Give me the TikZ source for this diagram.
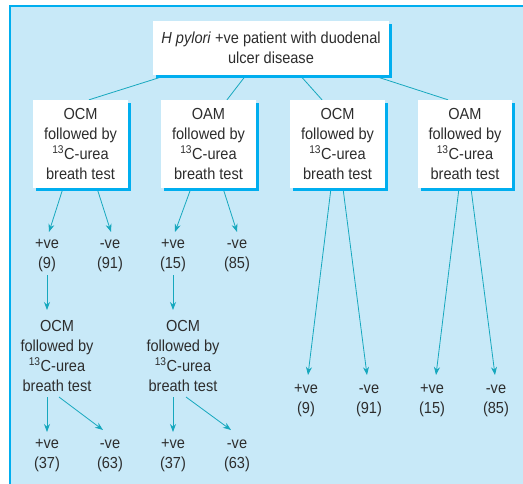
\documentclass[tikz,border=0pt]{standalone}
\usepackage{fontspec}
\setmainfont[FakeStretch=0.91]{Liberation Sans}
\usetikzlibrary{arrows.meta,shadows}
\definecolor{bgc}{RGB}{200,233,248}
\definecolor{cyanc}{RGB}{0,174,239}
\definecolor{linec}{RGB}{22,168,190}
\definecolor{txtc}{RGB}{45,45,45}
\pgfdeclarelayer{back}
\pgfdeclarelayer{lines}
\pgfsetlayers{back,lines,main}
\begin{document}
\begin{tikzpicture}[x=1pt,y=-1pt,
  every node/.style={font=\fontsize{16}{20}\selectfont, text=txtc},
  boxn/.style={fill=white, align=center, inner sep=0pt, minimum height=88pt, minimum width=95pt,
    general shadow={fill=cyanc, shadow xshift=3pt, shadow yshift=-3pt}},
  lab/.style={align=center, inner sep=0pt},
  conn/.style={draw=linec, line width=0.8pt},
  arr/.style={conn, -{Stealth[length=8pt,width=6pt]}}]
\useasboundingbox (0,0) rectangle (523,483);
\begin{pgfonlayer}{back}
  \path[fill=bgc, draw=cyanc, line width=1.5pt] (10,6) rectangle (530,490);
\end{pgfonlayer}

\node[boxn, minimum width=236pt, minimum height=54pt] (top) at (271,48)
  {\textit{H pylori} +ve patient with duodenal\\ulcer disease};

\node[boxn] (b1) at (80.5,144) {OCM\\followed by\\\textsuperscript{13}C-urea\\breath test};
\node[boxn] (b2) at (208.5,144) {OAM\\followed by\\\textsuperscript{13}C-urea\\breath test};
\node[boxn] (b3) at (337.5,144) {OCM\\followed by\\\textsuperscript{13}C-urea\\breath test};
\node[boxn, minimum width=94pt] (b4) at (465,144) {OAM\\followed by\\\textsuperscript{13}C-urea\\breath test};

\node[lab] (l11) at (47,256) {+ve\\(9)};
\node[lab] (l12) at (110,256) {-ve\\(91)};
\node[lab] (l21) at (173,256) {+ve\\(15)};
\node[lab] (l22) at (237,256) {-ve\\(85)};

\node[lab] (m1) at (57,356) {OCM\\followed by\\\textsuperscript{13}C-urea\\breath test};
\node[lab] (m2) at (183,356) {OCM\\followed by\\\textsuperscript{13}C-urea\\breath test};

\node[lab] (n11) at (47,456) {+ve\\(37)};
\node[lab] (n12) at (110,456) {-ve\\(63)};
\node[lab] (n21) at (173,456) {+ve\\(37)};
\node[lab] (n22) at (237,456) {-ve\\(63)};

\node[lab] (r31) at (306,401) {+ve\\(9)};
\node[lab] (r32) at (369,401) {-ve\\(91)};
\node[lab] (r41) at (432,401) {+ve\\(15)};
\node[lab] (r42) at (496,401) {-ve\\(85)};

\begin{pgfonlayer}{lines}
  \draw[conn] ([xshift=-104pt]top.south) -- ([xshift=8.5pt]b1.north);
  \draw[conn] ([xshift=-25pt]top.south) -- ([xshift=18.5pt]b2.north);
  \draw[conn] ([xshift=29pt]top.south) -- ([xshift=-15.5pt]b3.north);
  \draw[conn] ([xshift=101pt]top.south) -- ([xshift=-17pt]b4.north);

  \draw[arr] ([xshift=-17.5pt]b1.south) -- ([yshift=24pt,xshift=2pt]l11.center);
  \draw[arr] ([xshift=16.5pt]b1.south) -- ([yshift=24pt,xshift=1pt]l12.center);
  \draw[arr] ([xshift=-17.5pt]b2.south) -- ([yshift=24pt,xshift=2pt]l21.center);
  \draw[arr] ([xshift=14.5pt]b2.south) -- ([yshift=24pt]l22.center);

  \draw[arr] ([xshift=-6.5pt]b3.south) -- ([yshift=26pt,xshift=2pt]r31.center);
  \draw[arr] ([xshift=5.5pt]b3.south) -- ([yshift=26pt,xshift=-2pt]r32.center);
  \draw[arr] ([xshift=-6pt]b4.south) -- ([yshift=26pt,xshift=4pt]r41.center);
  \draw[arr] ([xshift=6pt]b4.south) -- ([yshift=26pt,xshift=-1pt]r42.center);

  \draw[arr] ([yshift=-19pt]l11.center) -- ([yshift=46pt,xshift=-10pt]m1.center);
  \draw[arr] ([yshift=-19pt]l21.center) -- ([yshift=46pt,xshift=-10pt]m2.center);

  \draw[arr] ([yshift=-41pt,xshift=-10pt]m1.center) -- ([yshift=24pt]n11.center);
  \draw[arr] ([yshift=-41pt,xshift=2pt]m1.center) -- ([yshift=26pt,xshift=-7pt]n12.center);
  \draw[arr] ([yshift=-41pt,xshift=-10pt]m2.center) -- ([yshift=24pt]n21.center);
  \draw[arr] ([yshift=-41pt,xshift=3pt]m2.center) -- ([yshift=26pt,xshift=-6pt]n22.center);
\end{pgfonlayer}
\end{tikzpicture}
\end{document}
